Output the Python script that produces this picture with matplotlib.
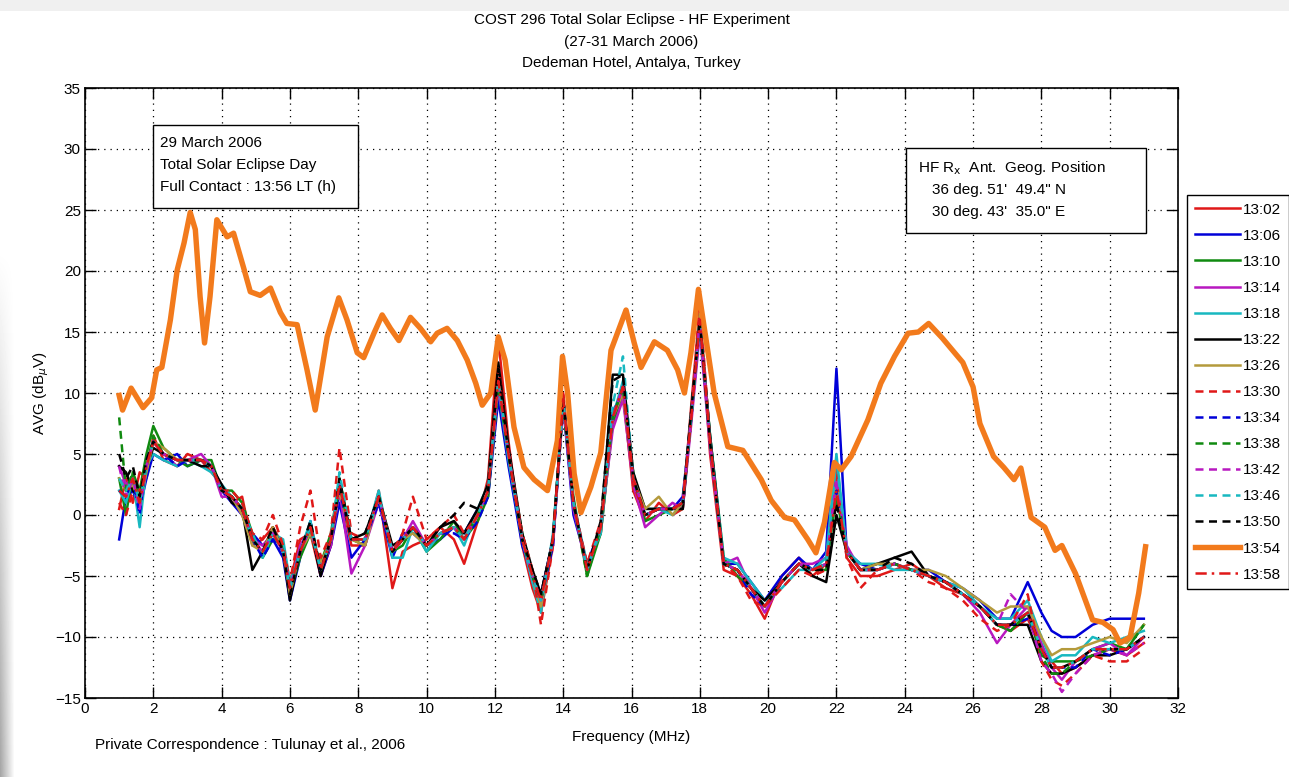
import matplotlib
matplotlib.use("Agg")
import matplotlib.pyplot as plt
from matplotlib.patches import Rectangle
from matplotlib import font_manager
import numpy as np

# ---------------- data ----------------
freq = [1.0, 1.2, 1.4, 1.6, 1.8, 2.0, 2.3, 2.7, 3.0, 3.4, 3.7, 4.0, 4.3, 4.6, 4.9, 5.2, 5.5,
        5.8, 6.0, 6.3, 6.6, 6.9, 7.2, 7.45, 7.8, 8.2, 8.6, 9.0, 9.3, 9.6, 10.0, 10.4, 10.8, 11.1,
        11.5, 11.8, 12.1, 12.4, 12.8, 13.1, 13.35, 13.7, 14.0, 14.3, 14.7, 15.1, 15.45, 15.75, 16.05, 16.4, 16.8,
        17.2, 17.5, 17.75, 18.0, 18.3, 18.7, 19.1, 19.5, 19.9, 20.4, 20.9, 21.3, 21.7, 22.0, 22.3, 22.7, 23.2,
        23.7, 24.2, 24.7, 25.2, 25.7, 26.2, 26.7, 27.1, 27.6, 28.0, 28.3, 28.6, 29.0, 29.5, 30.0, 30.5, 31.0]

s1302 = [0.5, 3, 1, 3.5, 3, 6.5, 4.5, 4, 5, 4.5, 3.5, 2.5, 1, 1.5, -2.5, -2, -1,
         -2.5, -5.5, -2, -1.5, -5, -2.5, 2, -2.5, -2.5, 2, -6, -3, -2.5, -2, -1, -2, -4,
         -0.5, 3, 14.5, 6, -2.5, -6, -8, -2.5, 10, 0.5, -4, -1.5, 8, 10, 2, -0.5, 1,
         0, 0.5, 9, 17, 5, -4.5, -5, -6.5, -8.5, -5, -3.5, -5, -4, 4, -3.5, -5, -5,
         -4.5, -4, -5, -6, -6.5, -7.5, -9, -9.5, -8.5, -11, -12, -13, -12.5, -11.5, -11, -11.5, -10.5]
s1306 = [-2, 1.5, 2, 0.5, 3, 5, 4.5, 5, 4, 4.5, 4, 2, 1, 0, -1.5, -2.5, -2,
         -3.5, -7, -3.5, -0.5, -5, -2.5, 1, -3.5, -2, 1, -3.5, -1.5, -1.5, -2.5, -2, -1, -1.5,
         0.5, 1.5, 9.5, 4, -2.5, -5, -6.5, -2, 9, 0, -4, -1, 8.5, 10, 3, 0, 0.5,
         0.5, 1.5, 8, 15.5, 6, -4, -4, -5.5, -7, -5, -3.5, -4.5, -3, 12, -3, -4, -4.5,
         -4, -4.5, -4.5, -5.5, -6, -7, -8.5, -8.5, -5.5, -8, -9.5, -10, -10, -9, -8.5, -8.5, -8.5]
s1310 = [3, 0, 3.5, 2, 5, 7.3, 5.5, 4.5, 4, 4.5, 4.5, 2, 2, 1, -1.5, -3.5, -2,
         -2.5, -6.5, -3.5, -1.5, -4, -1.5, 3, -2, -2.5, 1.5, -3, -2.5, -1, -3, -2, -0.5, -2,
         -0.5, 1.5, 10.5, 5, -1.5, -5, -7, -2, 9.5, 1.5, -5, -1.5, 7.5, 10, 3.5, -0.5, 0,
         0.5, 0.5, 8, 16, 6.5, -3.5, -5, -6, -7.5, -5.5, -4, -4.5, -4.5, 2, -3, -4.5, -4.5,
         -4, -4.5, -5, -5.5, -6.5, -7.5, -9, -9.5, -8, -11.5, -12, -12, -12, -11, -10.5, -11, -9]
s1314 = [4, 2.5, 3, 1, 4, 6, 5, 4, 4.5, 5, 4, 1.5, 1.5, 0, -2, -2.5, -1.5,
         -3, -6, -2.5, -1, -4.5, -2.5, 2, -4.8, -2.5, 1, -3, -2, -0.5, -2.5, -1.5, -1, -2,
         0, 2, 10.5, 5, -2, -5.5, -6.5, -2.5, 9, 0.5, -4.5, -1, 7, 9.5, 2.5, -1, 0,
         1, 0.5, 7.5, 15, 5.5, -4, -3.5, -6, -8, -5.5, -4, -4, -3.5, 3, -2.5, -4.5, -4.5,
         -4, -4.5, -5, -5.5, -6.5, -8, -10.5, -9, -7.5, -10.5, -12.5, -13.5, -12, -11, -10.5, -11.5, -10]
s1318 = [2, 1, 3, -1, 4, 5, 4.5, 4, 4.5, 4, 3.5, 2.5, 1.5, 0.5, -1.5, -3.5, -1.5,
         -2, -5.5, -3, -0.5, -4.5, -2, 2.5, -2, -2, 2, -3.5, -3.5, -1, -3, -1.5, -1, -2.5,
         0.5, 2.5, 10.5, 4.5, -2, -5.5, -8, -1.5, 9, 1, -4, -1.5, 8, 11, 3, 0.5, 0.5,
         0, 1, 8.5, 15.5, 6.5, -3.5, -4, -5.5, -7, -6, -4.5, -4.5, -3.5, 5, -3, -4, -4,
         -4.5, -4.5, -5, -5.5, -6, -7.5, -8.5, -8.5, -7, -10, -12, -11.5, -11.5, -10, -10.5, -10, -9.5]
s1322 = [4, 3.5, 2, 1.5, 4, 5.5, 5, 4.5, 4.5, 4, 4, 2.5, 1, 0.5, -4.5, -3, -1,
         -3, -7, -3, -1, -5, -2, 3, -2, -1.5, 1.5, -2.5, -2, -1, -2.5, -1, -0.5, -1.5,
         0.5, 2.5, 12.5, 5.5, -1.5, -4.5, -6.5, -2, 9.5, 1, -4.5, -1, 11.5, 11.5, 3.5, 0.5, 0.5,
         0.5, 0.5, 8.5, 16, 6.5, -4, -4.5, -6, -7, -5.5, -4, -5, -5.5, 0, -3, -4.5, -4,
         -3.5, -3, -5, -5.5, -6.5, -7.5, -9, -9, -9, -12, -13, -13, -12.5, -11.5, -11.5, -11, -10]
s1326 = [3, 2, 2.5, 1, 3.5, 6, 5.5, 4.5, 4.5, 4.5, 4, 2, 1.5, 0, -2.5, -3, -1,
         -3, -6.5, -3, -1.5, -4, -2, 2, -2, -2.5, 1.5, -3, -2, -1.5, -2.5, -1.5, -1, -2,
         0, 2, 11, 5, -2, -5, -7.5, -2, 9.5, 1, -4.5, -1, 8, 10, 3, 0.5, 1.5,
         0, 1, 8, 16.5, 6, -4, -4.5, -6, -7.5, -5.5, -4, -4.5, -4, 2.5, -3, -4.5, -4,
         -4, -4.5, -4.5, -5, -6, -7, -8, -7.5, -7.5, -10, -11.5, -11, -11, -10.5, -10, -10.5, -9]
s1330 = [1, 0, 2, 2, 4, 6, 5, 4.5, 4.5, 4.5, 4, 2, 2, 1, -1.5, -2, 0,
         -2.5, -5.5, -1, 2, -3.5, -1.5, 5.5, -1.5, -2, 1.5, -3, -1.5, 1.5, -2, -1, 0, -1.5,
         0, 2, 12, 5, -1.5, -4.5, -9, -2.5, 10, 1, -4, -0.5, 8, 10.5, 2.5, 0, 0.5,
         0.5, 1, 8, 17.5, 6, -4, -5, -7, -7.5, -6, -4.5, -5, -4.5, 3, -3.5, -6, -4.5,
         -4, -4.5, -5.5, -6, -7, -8.5, -9.5, -9, -6.5, -12, -13.5, -14, -13, -11.5, -12, -12, -11]
s1334 = [2, 1.5, 3, 0, 4.5, 6, 5, 4, 4.5, 4.5, 4, 2, 1.5, 0.5, -2, -3.5, -2,
         -3, -6, -3, -1, -4.5, -2, 2, -2, -2, 1, -3, -2, -1, -2.5, -1.5, -1.5, -2,
         -0.5, 1.5, 11, 5, -2, -5, -7, -2.5, 9.5, 1, -4.5, -1, 8, 10.5, 3, 0, 0.5,
         0.5, 1, 8, 16, 6, -4, -4.5, -6.5, -7.5, -5.5, -4, -4.5, -4, 2, -3, -4.5, -4.5,
         -4, -4.5, -5, -5.5, -6.5, -7.5, -9, -9, -8.5, -11, -12.5, -12.5, -12.5, -11, -11.5, -11, -10]
s1338 = [8, 2, 3.5, 1, 4, 6.5, 5, 4.5, 4.5, 4.5, 4, 2, 1.5, 0.5, -2, -3, -1.5,
         -3, -6, -3, -1, -4.5, -2, 2.5, -2, -2, 1.5, -3, -2, -1, -2.5, -1.5, -1, -2,
         0, 2, 10.5, 5, -2, -5, -7, -2, 9, 1, -5, -1, 8, 10.5, 3, 0, 0.5,
         0.5, 1, 8, 16, 6, -4, -4.5, -6, -7.5, -5.5, -4, -4.5, -4, 1.5, -3, -4.5, -4.5,
         -4, -4.5, -5, -5.5, -6.5, -7.5, -9, -9.5, -8, -11.5, -13, -13, -12, -11.5, -11, -11, -9]
s1342 = [4, 1.5, 3, 0.5, 4, 6, 5, 4.5, 4.5, 4.5, 4, 2, 1.5, 0.5, -2, -3, -1.5,
         -3, -6, -3, -1, -4.5, -2, 2.5, -2, -2, 1.5, -3, -2, -1, -2.5, -1.5, -1, -2,
         0, 2, 10.5, 5, -2, -5, -7, -2, 9, 1, -4.5, -1, 8, 10.5, 3, 0, 0.5,
         0.5, 1, 8, 16, 6, -4, -4.5, -6, -7.5, -5.5, -4, -4.5, -4, 3, -3, -4.5, -4.5,
         -4, -4.5, -5, -5.5, -6.5, -7.5, -9, -6.5, -8, -12, -13, -14.5, -13, -11.5, -11, -11.5, -10.5]
s1346 = [3, 2, 3, 1, 4, 6, 5, 4.5, 4.5, 4.5, 4, 2, 1.5, 0.5, -2, -3, -1.5,
         -3, -6, -3, -1, -4.5, -2, 3.5, -2, -2, 1.5, -3, -2, -1, -2.5, -1.5, -1, -2,
         0, 2, 11, 5, -2, -5, -7, -2, 9.5, 1, -4.5, -1, 9, 13, 3, 0, 0.5,
         0.5, 1, 8, 16, 6, -4, -4.5, -6, -7.5, -5.5, -4, -4.5, -4, 4.5, -3, -4.5, -4.5,
         -4, -4.5, -5, -5.5, -6.5, -7.5, -9, -9, -8, -11, -12.5, -12.5, -12, -11, -11, -11, -10]
s1350 = [5, 3, 4, 1.5, 4.5, 6, 5, 4.5, 4.5, 4.5, 4, 2, 1.5, 0.5, -2, -3, -1,
         -3, -6.5, -3, -0.5, -4.5, -2, 2.5, -2, -1.5, 1.5, -3, -2, -1, -2.5, -1, 0, 1,
         0.5, 2, 12, 5, -2, -4.5, -6.5, -2, 9.5, 1, -4.5, -0.5, 11, 11.5, 3, 0, 0.5,
         0.5, 1, 8.5, 16, 6, -4, -4.5, -6, -7.5, -5.5, -4, -4.5, -4.5, 1, -3, -4.5, -4.5,
         -3.5, -4, -5, -5.5, -6.5, -7.5, -9, -9, -8, -11, -12.5, -12.5, -12, -11, -11, -11, -10]
s1358 = [2, 1.5, 3, 1, 4, 6, 5, 4.5, 4.5, 4.5, 4, 2, 1.5, 0.5, -2, -3, -1.5,
         -3, -6, -3, -1, -4.5, -2, 2.5, -2, -2, 1.5, -3, -2, -1, -2.5, -1.5, -1, -2,
         0, 2, 11, 5, -2, -5, -7, -2, 9.5, 1, -4.5, -1, 8, 10.5, 3, 0, 0.5,
         0.5, 1, 8, 16, 6, -4, -4.5, -6, -7.5, -5.5, -4, -4.5, -4, 2, -3, -4.5, -4.5,
         -4, -4.5, -5, -5.5, -6.5, -7.5, -9, -9, -8, -11, -12.5, -12.5, -12, -11, -11, -11, -10]

# 13:54 (full eclipse) has its own sampling
freq_1354 = [1.0, 1.1, 1.35, 1.7, 1.95, 2.1, 2.25, 2.5, 2.7, 2.9, 3.08, 3.23, 3.37, 3.5, 3.66, 3.86,
             4.16, 4.35, 4.64, 4.84, 5.13, 5.43, 5.72, 5.91, 6.21, 6.5, 6.74, 7.09, 7.43, 7.67, 7.97,
             8.16, 8.46, 8.7, 8.94, 9.19, 9.53, 9.82, 10.12, 10.31, 10.6, 10.9, 11.19, 11.44, 11.63,
             11.88, 12.1, 12.3, 12.56, 12.85, 13.15, 13.54, 13.83, 13.98, 14.13, 14.32, 14.52, 14.81,
             15.1, 15.4, 15.84, 16.08, 16.28, 16.67, 17.05, 17.35, 17.55, 17.74, 17.96, 18.42, 18.82,
             19.26, 19.8, 20.09, 20.48, 20.77, 21.16, 21.4, 21.65, 21.94, 22.14, 22.43, 22.92, 23.3,
             23.7, 24.1, 24.4, 24.7, 25.1, 25.7, 26.0, 26.2, 26.6, 26.9, 27.2, 27.4, 27.7, 28.1, 28.4,
             28.6, 29.0, 29.5, 29.8, 30.1, 30.3, 30.6, 30.85, 31.05]
s1354 = [9.8, 8.6, 10.4, 8.8, 9.6, 11.9, 12.1, 16.0, 20.1, 22.3, 24.8, 23.4, 17.9, 14.1, 17.9, 24.2,
         22.8, 23.1, 20.3, 18.3, 18.0, 18.6, 16.6, 15.7, 15.6, 11.9, 8.6, 14.6, 17.8, 16.0, 13.3,
         12.9, 14.9, 16.4, 15.3, 14.3, 16.2, 15.3, 14.2, 14.9, 15.3, 14.3, 12.7, 10.8, 9.0,
         10.0, 14.6, 12.7, 7.2, 3.9, 2.9, 2.0, 6.1, 13.0, 10.0, 3.4, 0.2, 2.3,
         5.1, 13.5, 16.8, 14.1, 12.1, 14.2, 13.5, 11.9, 10.0, 13.3, 18.5, 10.0, 5.6,
         5.3, 2.9, 1.2, -0.2, -0.4, -2.0, -3.1, -0.6, 4.3, 3.7, 4.8, 7.8, 10.8,
         13.0, 14.9, 15.0, 15.7, 14.5, 12.5, 10.5, 7.5, 4.8, 3.9, 2.9, 3.85, -0.2, -1.0, -2.9,
         -2.5, -4.8, -8.6, -8.8, -9.4, -10.5, -10.0, -6.4, -2.6]

labels = ["13:02", "13:06", "13:10", "13:14", "13:18", "13:22", "13:26", "13:30",
          "13:34", "13:38", "13:42", "13:46", "13:50", "13:54", "13:58"]
xticks = list(range(0, 33, 2))
yticks = list(range(-15, 36, 5))

# ---------------- style ----------------
avail = {f.name for f in font_manager.fontManager.ttflist}
fam = [f for f in ["Liberation Sans Narrow", "Liberation Sans", "DejaVu Sans"] if f in avail]
plt.rcParams['font.family'] = fam
plt.rcParams['font.size'] = 11

RED = '#e01818'; BLUE = '#0000d8'; GREEN = '#108a10'; MAG = '#b818c0'
CYAN = '#18b8c0'; BLACK = '#000000'; OLIVE = '#b49a3c'; ORANGE = '#f27a1c'

W, H = 1289, 777
fig = plt.figure(figsize=(W / 100, H / 100), dpi=100)
fig.patch.set_facecolor('white')

# faint page border shading (background only)
bg = fig.add_axes([0, 0, 1, 1], zorder=-10)
bgimg = np.ones((H, W))
bgimg[:11, :] = 0.94
yy = np.arange(H)
left_shade = np.clip((yy - 250) / 527.0, 0, 1) * 0.35
for j in range(14):
    bgimg[:, j] = np.minimum(bgimg[:, j], 1 - left_shade * (1 - j / 14.0))
bg.imshow(bgimg, cmap='gray', vmin=0, vmax=1, aspect='auto', interpolation='bilinear')
bg.axis('off')

L, R, T, B = 85, 1178, 88, 698
ax = fig.add_axes([L / W, 1 - B / H, (R - L) / W, (B - T) / H])

series = [
    (freq, s1302, RED, '-'), (freq, s1306, BLUE, '-'), (freq, s1310, GREEN, '-'),
    (freq, s1314, MAG, '-'), (freq, s1318, CYAN, '-'), (freq, s1322, BLACK, '-'),
    (freq, s1326, OLIVE, '-'), (freq, s1330, RED, '--'), (freq, s1334, BLUE, '--'),
    (freq, s1338, GREEN, '--'), (freq, s1342, MAG, '--'), (freq, s1346, CYAN, '--'),
    (freq, s1350, BLACK, '--'), (freq_1354, s1354, ORANGE, '-'), (freq, s1358, RED, '-.'),
]
for (xs, ys, c, ls), lab in zip(series, labels):
    kw = dict(color=c, label=lab, solid_joinstyle='round')
    kw['linewidth'] = 3.9 if lab == "13:54" else 1.8
    line, = ax.plot(xs, ys, **kw)
    if ls == '--':
        line.set_dashes((3.2, 2.2))
    elif ls == '-.':
        line.set_dashes((4.5, 2, 1, 2))

ax.set_xlim(0, 32)
ax.set_ylim(-15, 35)
ax.set_xticks(xticks)
ax.set_yticks(yticks)
ax.grid(True, linestyle=(0, (1, 4)), color='black', linewidth=0.9)
ax.tick_params(direction='in', top=True, right=True, length=8, width=1, labelsize=11, pad=3)
for sp in ax.spines.values():
    sp.set_linewidth(1.2)

ax.set_ylabel(r'AVG (dB$_{\mu}$V)', fontsize=11)
ax.yaxis.set_label_coords(-0.031, 0.5)
ax.set_xlabel('Frequency (MHz)', fontsize=11)
ax.xaxis.set_label_coords(0.5, -0.052)

# title
for txt, y in [("COST 296 Total Solar Eclipse - HF Experiment", 20),
               ("(27-31 March 2006)", 42), ("Dedeman Hotel, Antalya, Turkey", 63)]:
    fig.text((L + R) / 2 / W, 1 - y / H, txt, ha='center', va='center', fontsize=11)

fig.text(95 / W, 1 - 745 / H, "Private Correspondence : Tulunay et al., 2006",
         ha='left', va='center', fontsize=11)

# annotation boxes
def box(x0, y0, x1, y1):
    fig.add_artist(Rectangle((x0 / W, 1 - y1 / H), (x1 - x0) / W, (y1 - y0) / H,
                             transform=fig.transFigure, facecolor='white',
                             edgecolor='black', linewidth=1.0, zorder=5))

box(153, 125, 358, 208)
for txt, y in [("29 March 2006", 143), ("Total Solar Eclipse Day", 165),
               ("Full Contact : 13:56 LT (h)", 187)]:
    fig.text(160 / W, 1 - y / H, txt, ha='left', va='center', fontsize=11, zorder=6)

box(906, 148, 1146, 233)
fig.text(918 / W, 1 - 168 / H, "HF R$_{\\mathrm{x}}$  Ant.  Geog. Position",
         ha='left', va='center', fontsize=11, zorder=6)
fig.text(932 / W, 1 - 190 / H, "36 deg. 51'  49.4\" N", ha='left', va='center', fontsize=11, zorder=6)
fig.text(932 / W, 1 - 212 / H, "30 deg. 43'  35.0\" E", ha='left', va='center', fontsize=11, zorder=6)

# legend
leg = ax.legend(loc='upper left', bbox_to_anchor=(1187 / W, 1 - 195 / H),
                bbox_transform=fig.transFigure, fontsize=11, frameon=True,
                fancybox=False, shadow=False, framealpha=1, edgecolor='black',
                handlelength=3.0, handletextpad=0.15, labelspacing=0.79,
                borderpad=0.5, borderaxespad=0)
leg.get_frame().set_linewidth(1.0)
leg.set_zorder(10)

fig.savefig("out.png", dpi=100, facecolor='white')
